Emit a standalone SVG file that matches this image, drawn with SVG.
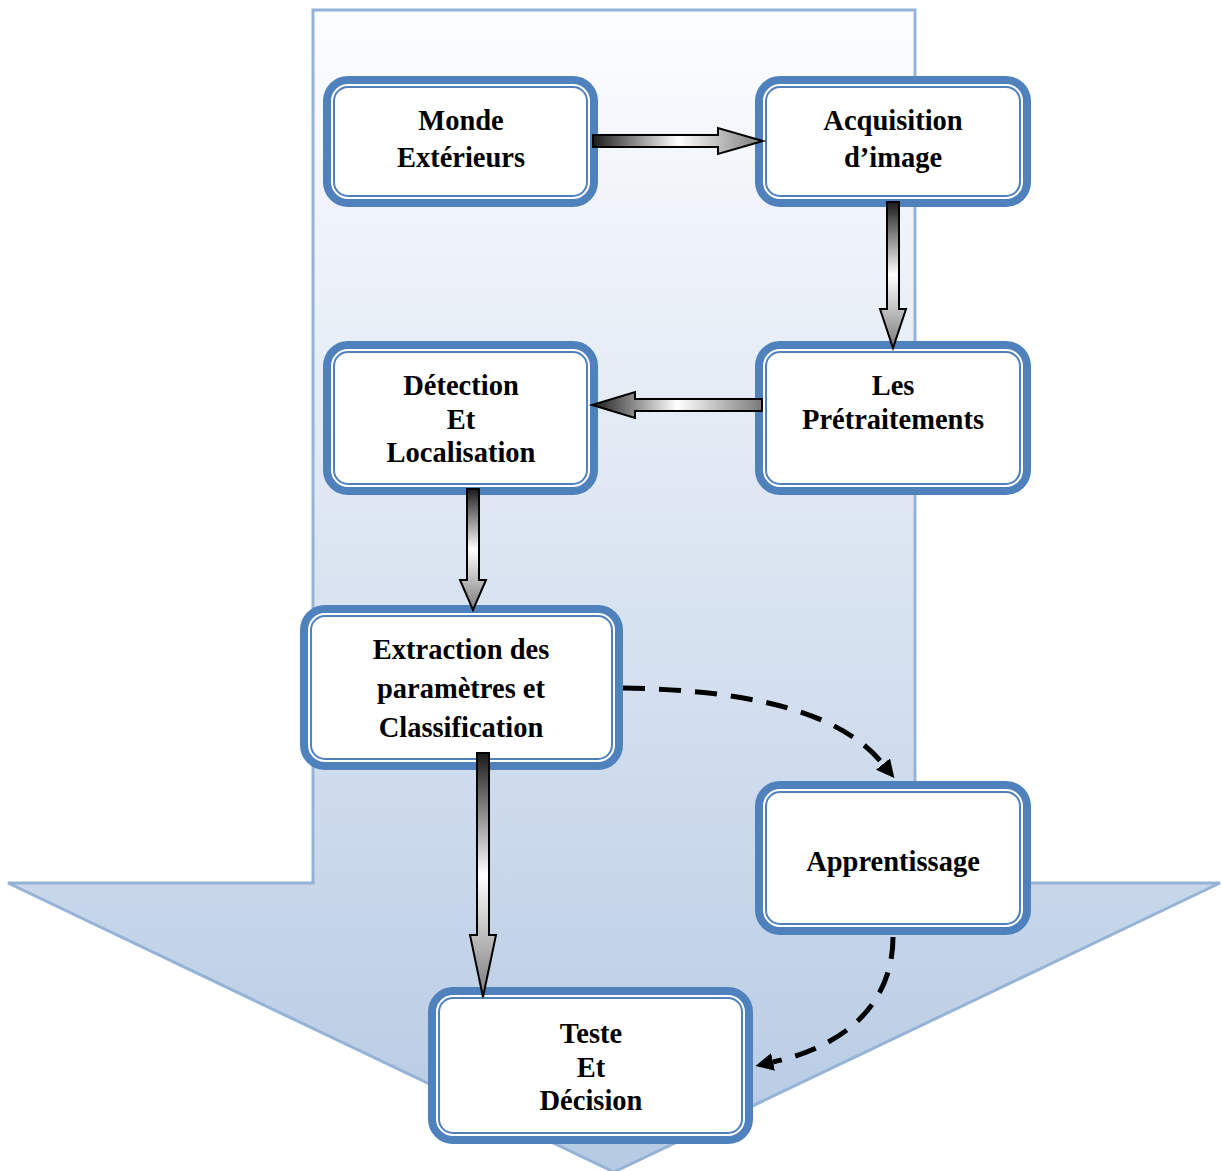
<svg xmlns="http://www.w3.org/2000/svg" width="1222" height="1171" viewBox="0 0 1222 1171">
  <style>
    .frame { fill: #ffffff; stroke: #4F81BD; stroke-width: 8; }
    .inner { fill: none; stroke: #4F81BD; stroke-width: 2; }
    .label { font-family: "Liberation Serif", "Times New Roman", serif; font-weight: bold; font-size: 28.5px; fill: #000000; text-anchor: middle; }
    .block-h { fill: url(#gradH); stroke: #000000; stroke-width: 2; stroke-linejoin: miter; }
    .block-v { fill: url(#gradV); stroke: #000000; stroke-width: 2; stroke-linejoin: miter; }
    .dashed { fill: none; stroke: #000000; stroke-width: 5; stroke-dasharray: 22 14; }
  </style>
  <defs>
    <linearGradient id="bgGrad" x1="0" y1="0" x2="0" y2="1">
      <stop offset="0" stop-color="#FCFDFF"/>
      <stop offset="1" stop-color="#B6CAE3"/>
    </linearGradient>
    <linearGradient id="gradH" x1="0" y1="0" x2="1" y2="0">
      <stop offset="0" stop-color="#1a1a1a"/>
      <stop offset="0.5" stop-color="#ffffff"/>
      <stop offset="1" stop-color="#7a7a7a"/>
    </linearGradient>
    <linearGradient id="gradV" x1="0" y1="0" x2="0" y2="1">
      <stop offset="0" stop-color="#1a1a1a"/>
      <stop offset="0.5" stop-color="#ffffff"/>
      <stop offset="1" stop-color="#7a7a7a"/>
    </linearGradient>
    <marker id="head" viewBox="0 0 18 18" refX="0" refY="9" markerWidth="18" markerHeight="18" markerUnits="userSpaceOnUse" orient="auto">
      <path d="M0,0 L18,9 L0,18 z" fill="#000000"/>
    </marker>
  </defs>

  <!-- large background process arrow -->
  <polygon id="flow-arrow" points="313,10 915,10 915,883 1220,883 614,1172 8,883 313,883" fill="url(#bgGrad)" stroke="#95B3D7" stroke-width="3"/>

  <!-- process steps -->
  <g id="monde">
    <rect class="frame" x="327" y="80" width="267" height="123" rx="21"/>
    <rect class="inner" x="334" y="87" width="253" height="109" rx="14"/>
    <text class="label" x="461" y="130">Monde</text>
    <text class="label" x="461" y="167">Extérieurs</text>
  </g>
  <g id="acquisition">
    <rect class="frame" x="759" y="80" width="268" height="123" rx="21"/>
    <rect class="inner" x="766" y="87" width="254" height="109" rx="14"/>
    <text class="label" x="893" y="130">Acquisition</text>
    <text class="label" x="893" y="167">d’image</text>
  </g>
  <g id="pretraitements">
    <rect class="frame" x="759" y="345" width="268" height="146" rx="21"/>
    <rect class="inner" x="766" y="352" width="254" height="132" rx="14"/>
    <text class="label" x="893" y="395">Les</text>
    <text class="label" x="893" y="429">Prétraitements</text>
  </g>
  <g id="detection">
    <rect class="frame" x="327" y="345" width="267" height="146" rx="21"/>
    <rect class="inner" x="334" y="352" width="253" height="132" rx="14"/>
    <text class="label" x="461" y="395">Détection</text>
    <text class="label" x="461" y="429">Et</text>
    <text class="label" x="461" y="462">Localisation</text>
  </g>
  <g id="extraction">
    <rect class="frame" x="304" y="609" width="315" height="157" rx="21"/>
    <rect class="inner" x="311" y="616" width="301" height="143" rx="14"/>
    <text class="label" x="461" y="659">Extraction des</text>
    <text class="label" x="461" y="698">paramètres et</text>
    <text class="label" x="461" y="737">Classification</text>
  </g>
  <g id="apprentissage">
    <rect class="frame" x="759" y="785" width="268" height="146" rx="21"/>
    <rect class="inner" x="766" y="792" width="254" height="132" rx="14"/>
    <text class="label" x="893" y="871">Apprentissage</text>
  </g>
  <g id="decision">
    <rect class="frame" x="432" y="991" width="317" height="149" rx="21"/>
    <rect class="inner" x="439" y="998" width="303" height="135" rx="14"/>
    <text class="label" x="591" y="1043">Teste</text>
    <text class="label" x="591" y="1077">Et</text>
    <text class="label" x="591" y="1110">Décision</text>
  </g>

  <!-- connectors, drawn over the step frames -->
  <g id="connectors">
    <polygon class="block-h" points="593,135 718,135 718,128 763,141 718,154 718,147 593,147"/>
    <polygon class="block-v" points="887,202 899,202 899,309 906,309 893,348 880,309 887,309"/>
    <polygon class="block-h" points="762,399 762,411 635,411 635,418 592,405 635,392 635,399"/>
    <polygon class="block-v" points="467,489 479,489 479,580 486,580 473,610 460,580 467,580"/>
    <polygon class="block-v" points="477,753 489,753 489,935 496,935 483,997 470,935 477,935"/>
    <path class="dashed" d="M623,688 C730,690 835,705 883,764" marker-end="url(#head)"/>
    <path class="dashed" d="M893,937 C893,1000 850,1045 773,1062" marker-end="url(#head)"/>
  </g>
</svg>
